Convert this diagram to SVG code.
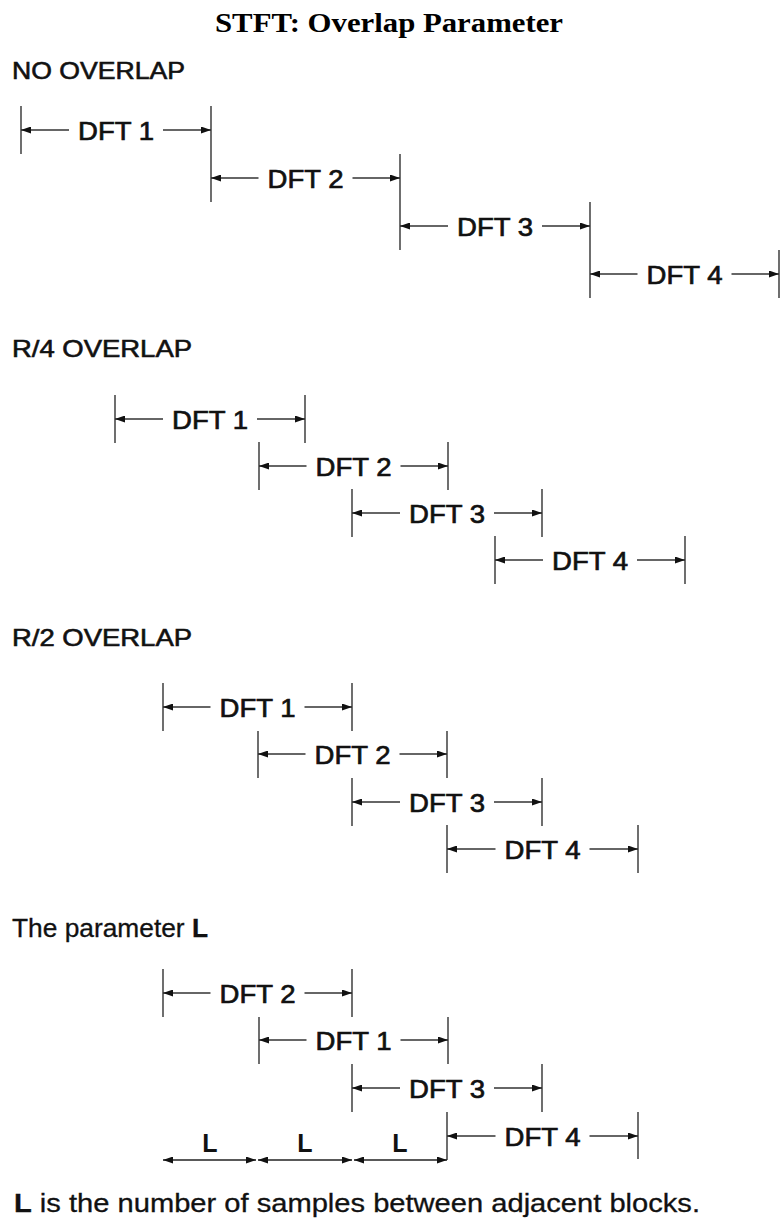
<svg xmlns="http://www.w3.org/2000/svg" width="781" height="1226" viewBox="0 0 781 1226">
<style>
.title{font-family:"Liberation Serif",serif;font-weight:bold;font-size:27px;fill:#000}
.head{font-family:"Liberation Sans",Arial,sans-serif;font-size:24px;fill:#111;stroke:#111;stroke-width:0.6}
.lab{font-family:"Liberation Sans",Arial,sans-serif;font-size:26px;fill:#111;stroke:#111;stroke-width:0.7}
.lbl{font-family:"Liberation Sans",Arial,sans-serif;font-size:25px;font-weight:bold;fill:#111}
.txt{font-family:"Liberation Sans",Arial,sans-serif;font-size:25px;fill:#111;stroke:#111;stroke-width:0.3}
.tick{stroke:#555;stroke-width:1.7;fill:none}
.arr{stroke:#333;stroke-width:1.6;fill:none;marker-end:url(#ah)}
.dbl{stroke:#222;stroke-width:1.6;fill:none;marker-start:url(#ahs);marker-end:url(#ah)}
</style>
<defs>
<marker id="ah" markerUnits="userSpaceOnUse" markerWidth="10" markerHeight="7" viewBox="0 -3.5 10 7" refX="10" refY="0" orient="auto"><path d="M0,-3.5 L10,0 L0,3.5 z" fill="#111"/></marker>
<marker id="ahs" markerUnits="userSpaceOnUse" markerWidth="10" markerHeight="7" viewBox="0 -3.5 10 7" refX="10" refY="0" orient="auto-start-reverse"><path d="M0,-3.5 L10,0 L0,3.5 z" fill="#111"/></marker>
</defs>
<rect width="781" height="1226" fill="#fff"/>
<text class="title" x="389" y="32" text-anchor="middle" textLength="348" lengthAdjust="spacingAndGlyphs">STFT: Overlap Parameter</text>

<text class="head" x="12" y="79" textLength="173" lengthAdjust="spacingAndGlyphs">NO OVERLAP</text>
<text class="head" x="12" y="357" textLength="180" lengthAdjust="spacingAndGlyphs">R/4 OVERLAP</text>
<text class="head" x="12" y="646" textLength="180" lengthAdjust="spacingAndGlyphs">R/2 OVERLAP</text>
<text class="txt" x="12" y="937" textLength="196" lengthAdjust="spacingAndGlyphs">The parameter <tspan font-weight="bold">L</tspan></text>

<!-- Section 1: no overlap -->
<g id="s1-dft1"><line class="tick" x1="21" y1="106" x2="21" y2="154"/><line class="tick" x1="211" y1="106" x2="211" y2="154"/><text class="lab" x="116" y="140" text-anchor="middle" textLength="76" lengthAdjust="spacingAndGlyphs">DFT 1</text></g>
<g id="s1-dft2"><line class="tick" x1="211" y1="154" x2="211" y2="202"/><line class="tick" x1="400" y1="154" x2="400" y2="202"/><text class="lab" x="305.5" y="188" text-anchor="middle" textLength="76" lengthAdjust="spacingAndGlyphs">DFT 2</text></g>
<g id="s1-dft3"><line class="tick" x1="400" y1="202" x2="400" y2="250"/><line class="tick" x1="590" y1="202" x2="590" y2="250"/><text class="lab" x="495" y="236" text-anchor="middle" textLength="76" lengthAdjust="spacingAndGlyphs">DFT 3</text></g>
<g id="s1-dft4"><line class="tick" x1="590" y1="250" x2="590" y2="298"/><line class="tick" x1="779" y1="250" x2="779" y2="298"/><text class="lab" x="684.5" y="284" text-anchor="middle" textLength="76" lengthAdjust="spacingAndGlyphs">DFT 4</text></g>

<!-- Section 2: R/4 overlap -->
<g id="s2-dft1"><line class="tick" x1="115" y1="395" x2="115" y2="443"/><line class="tick" x1="305" y1="395" x2="305" y2="443"/><text class="lab" x="210" y="429" text-anchor="middle" textLength="76" lengthAdjust="spacingAndGlyphs">DFT 1</text></g>
<g id="s2-dft2"><line class="tick" x1="259" y1="442" x2="259" y2="490"/><line class="tick" x1="448" y1="442" x2="448" y2="490"/><text class="lab" x="353.5" y="476" text-anchor="middle" textLength="76" lengthAdjust="spacingAndGlyphs">DFT 2</text></g>
<g id="s2-dft3"><line class="tick" x1="352" y1="489" x2="352" y2="537"/><line class="tick" x1="542" y1="489" x2="542" y2="537"/><text class="lab" x="447" y="523" text-anchor="middle" textLength="76" lengthAdjust="spacingAndGlyphs">DFT 3</text></g>
<g id="s2-dft4"><line class="tick" x1="495" y1="536" x2="495" y2="584"/><line class="tick" x1="685" y1="536" x2="685" y2="584"/><text class="lab" x="590" y="570" text-anchor="middle" textLength="76" lengthAdjust="spacingAndGlyphs">DFT 4</text></g>

<!-- Section 3: R/2 overlap -->
<g id="s3-dft1"><line class="tick" x1="163" y1="683" x2="163" y2="731"/><line class="tick" x1="352" y1="683" x2="352" y2="731"/><text class="lab" x="257.5" y="717" text-anchor="middle" textLength="76" lengthAdjust="spacingAndGlyphs">DFT 1</text></g>
<g id="s3-dft2"><line class="tick" x1="258" y1="731" x2="258" y2="778"/><line class="tick" x1="447" y1="731" x2="447" y2="778"/><text class="lab" x="352.5" y="764" text-anchor="middle" textLength="76" lengthAdjust="spacingAndGlyphs">DFT 2</text></g>
<g id="s3-dft3"><line class="tick" x1="352" y1="778" x2="352" y2="826"/><line class="tick" x1="542" y1="778" x2="542" y2="826"/><text class="lab" x="447" y="812" text-anchor="middle" textLength="76" lengthAdjust="spacingAndGlyphs">DFT 3</text></g>
<g id="s3-dft4"><line class="tick" x1="447" y1="825" x2="447" y2="873"/><line class="tick" x1="638" y1="825" x2="638" y2="873"/><text class="lab" x="542.5" y="859" text-anchor="middle" textLength="76" lengthAdjust="spacingAndGlyphs">DFT 4</text></g>

<!-- Section 4: parameter L -->
<g id="s4-dft2"><line class="tick" x1="163" y1="969" x2="163" y2="1017"/><line class="tick" x1="352" y1="969" x2="352" y2="1017"/><text class="lab" x="257.5" y="1003" text-anchor="middle" textLength="76" lengthAdjust="spacingAndGlyphs">DFT 2</text></g>
<g id="s4-dft1"><line class="tick" x1="259" y1="1017" x2="259" y2="1064"/><line class="tick" x1="448" y1="1017" x2="448" y2="1064"/><text class="lab" x="353.5" y="1050" text-anchor="middle" textLength="76" lengthAdjust="spacingAndGlyphs">DFT 1</text></g>
<g id="s4-dft3"><line class="tick" x1="352" y1="1064" x2="352" y2="1112"/><line class="tick" x1="542" y1="1064" x2="542" y2="1112"/><text class="lab" x="447" y="1098" text-anchor="middle" textLength="76" lengthAdjust="spacingAndGlyphs">DFT 3</text></g>
<g id="s4-dft4"><line class="tick" x1="447" y1="1112" x2="447" y2="1160"/><line class="tick" x1="638" y1="1112" x2="638" y2="1159"/><text class="lab" x="542.5" y="1146" text-anchor="middle" textLength="76" lengthAdjust="spacingAndGlyphs">DFT 4</text></g>
<g id="s4-L"><text class="lbl" x="210" y="1152" text-anchor="middle">L</text><text class="lbl" x="305" y="1152" text-anchor="middle">L</text><text class="lbl" x="400" y="1152" text-anchor="middle">L</text></g>

<text class="txt" x="14" y="1212" textLength="686" lengthAdjust="spacingAndGlyphs" font-size="26"><tspan font-weight="bold">L</tspan> is the number of samples between adjacent blocks.</text>

<g id="connectors">
<!-- section 1 -->
<line class="arr" x1="69" y1="130" x2="21" y2="130"/><line class="arr" x1="163" y1="130" x2="211" y2="130"/>
<line class="arr" x1="258.5" y1="178" x2="211" y2="178"/><line class="arr" x1="352.5" y1="178" x2="400" y2="178"/>
<line class="arr" x1="448" y1="226" x2="400" y2="226"/><line class="arr" x1="542" y1="226" x2="590" y2="226"/>
<line class="arr" x1="637.5" y1="274" x2="590" y2="274"/><line class="arr" x1="731.5" y1="274" x2="779" y2="274"/>
<!-- section 2 -->
<line class="arr" x1="163" y1="419" x2="115" y2="419"/><line class="arr" x1="257" y1="419" x2="305" y2="419"/>
<line class="arr" x1="306.5" y1="466" x2="259" y2="466"/><line class="arr" x1="400.5" y1="466" x2="448" y2="466"/>
<line class="arr" x1="400" y1="513" x2="352" y2="513"/><line class="arr" x1="494" y1="513" x2="542" y2="513"/>
<line class="arr" x1="543" y1="560" x2="495" y2="560"/><line class="arr" x1="637" y1="560" x2="685" y2="560"/>
<!-- section 3 -->
<line class="arr" x1="210.5" y1="707" x2="163" y2="707"/><line class="arr" x1="304.5" y1="707" x2="352" y2="707"/>
<line class="arr" x1="305.5" y1="754" x2="258" y2="754"/><line class="arr" x1="399.5" y1="754" x2="447" y2="754"/>
<line class="arr" x1="400" y1="802" x2="352" y2="802"/><line class="arr" x1="494" y1="802" x2="542" y2="802"/>
<line class="arr" x1="495.5" y1="849" x2="447" y2="849"/><line class="arr" x1="589.5" y1="849" x2="638" y2="849"/>
<!-- section 4 -->
<line class="arr" x1="210.5" y1="993" x2="163" y2="993"/><line class="arr" x1="304.5" y1="993" x2="352" y2="993"/>
<line class="arr" x1="306.5" y1="1040" x2="259" y2="1040"/><line class="arr" x1="400.5" y1="1040" x2="448" y2="1040"/>
<line class="arr" x1="400" y1="1088" x2="352" y2="1088"/><line class="arr" x1="494" y1="1088" x2="542" y2="1088"/>
<line class="arr" x1="495.5" y1="1136" x2="447" y2="1136"/><line class="arr" x1="589.5" y1="1136" x2="638" y2="1136"/>
<!-- L dimension arrows -->
<line class="dbl" x1="163" y1="1160" x2="256" y2="1160"/>
<line class="dbl" x1="258" y1="1160" x2="352" y2="1160"/>
<line class="dbl" x1="354" y1="1160" x2="447" y2="1160"/>
</g>
</svg>
